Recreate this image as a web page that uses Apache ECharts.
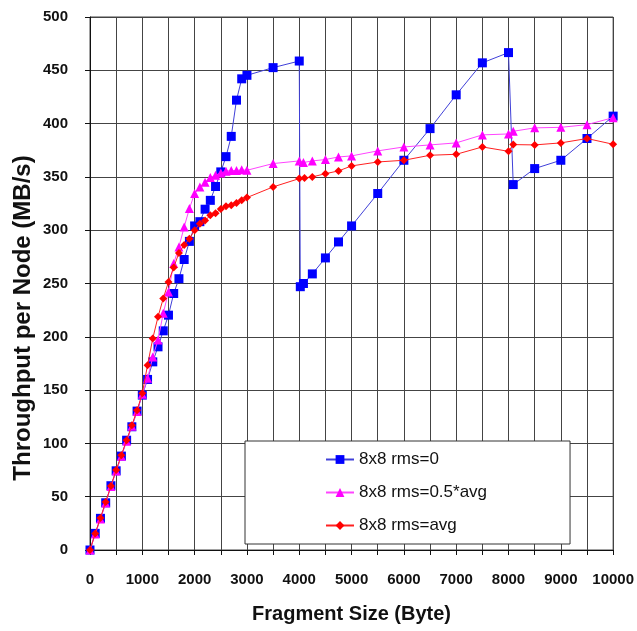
<!DOCTYPE html>
<html>
<head>
<meta charset="utf-8">
<script src="https://cdn.jsdelivr.net/npm/echarts@6/dist/echarts.min.js"></script>
<style>
html, body { margin: 0; padding: 0; background: #fff; }
#chart { width: 637px; height: 631px; }
</style>
</head>
<body>
<div id="chart"></div>
<script>
// fragment sizes (Byte) and throughput (MB/s)
var names = ['8x8 rms=0', '8x8 rms=0.5*avg', '8x8 rms=avg'];

var sizesRms0 = [0, 100, 200, 300, 400, 500, 600, 700, 800, 900, 1000, 1100, 1200, 1300, 1400, 1500, 1600, 1700, 1800, 1900,
    2000, 2100, 2200, 2300, 2400, 2500, 2600, 2700, 2800, 2900, 3000, 3500, 4000, 4020, 4080, 4250, 4500, 4750, 5000,
    5500, 6000, 6500, 7000, 7500, 8000, 8090, 8500, 9000, 9500, 10000];
var valsRms0 = [0, 15.6, 29.7, 44.3, 60.3, 74.3, 88.1, 103, 115.6, 130.3, 145.3, 160, 176.5, 190.6, 205.6, 220.3, 240.6, 254.5, 272.5, 289.5,
    304, 308, 319.7, 328, 341, 354.7, 369, 388, 422, 442, 445.3, 452.5, 458.7, 247, 250, 259, 274, 289, 304,
    334.4, 365.6, 395.3, 427, 457, 466.6, 342.8, 357.8, 365.6, 386, 407];

var sizesHalf = [0, 100, 200, 300, 400, 500, 600, 700, 800, 900, 1000, 1100, 1200, 1300, 1400, 1500, 1600, 1700, 1800, 1900,
    2000, 2100, 2200, 2300, 2400, 2500, 2600, 2700, 2800, 2900, 3000, 3500, 4000, 4080, 4250, 4500, 4750, 5000,
    5500, 6000, 6500, 7000, 7500, 8000, 8090, 8500, 9000, 9500, 10000];
var valsHalf = [0, 15, 29, 44, 59.5, 74, 88, 102, 116, 130, 146, 161, 181, 197, 222, 242, 268.8, 284.3, 303, 320.3,
    334.4, 340.6, 345, 349.4, 351.6, 353.7, 355.3, 356, 356, 356.6, 356.2, 362.5, 365, 363.5, 365, 366.3, 368.7, 369.7,
    374.4, 378.1, 380, 381.9, 389.4, 390.3, 392.8, 396, 396.5, 399, 405.6];

var sizesAvg = [0, 100, 200, 300, 400, 500, 600, 700, 800, 900, 1000, 1100, 1200, 1300, 1400, 1500, 1600, 1700, 1800, 1900,
    2000, 2100, 2200, 2300, 2400, 2500, 2600, 2700, 2800, 2900, 3000, 3500, 4000, 4100, 4250, 4500, 4750, 5000,
    5500, 6000, 6500, 7000, 7500, 8000, 8090, 8500, 9000, 9500, 10000];
var valsAvg = [0, 15.5, 30, 45, 60, 75, 89, 103, 117, 131, 147, 173.4, 198.4, 218.7, 236, 251.5, 265, 278.7, 286, 292,
    300, 306, 309, 314, 316, 320, 322.5, 323.4, 325.6, 328, 330.6, 340.6, 348.4, 349, 350, 353, 355.6, 360.3,
    364, 365.6, 370.3, 371.2, 378.1, 374, 380.3, 380, 381.9, 386, 380.6];

var xTicks = [0, 1000, 2000, 3000, 4000, 5000, 6000, 7000, 8000, 9000, 10000];

function pairs(xs, ys) {
    var out = [];
    for (var i = 0; i < xs.length; i++) {
        out.push([xs[i], ys[i]]);
    }
    return out;
}

var myChart = echarts.init(document.getElementById('chart'));
var option = {
    backgroundColor: '#fff',
    animation: false,
    textStyle: { fontFamily: 'Liberation Sans, Arial, sans-serif' },
    grid: { left: 90, right: 21, top: 17, bottom: 81, show: true, borderColor: '#444', borderWidth: 1 },
    graphic: [
        {
            // y axis title, placed a little below the middle as in the figure
            type: 'text',
            x: 23,
            y: 318,
            rotation: Math.PI / 2,
            style: {
                text: 'Throughput per Node (MB/s)',
                font: 'bold 24px "Liberation Sans", Arial, sans-serif',
                fill: '#111',
                textAlign: 'center',
                textVerticalAlign: 'middle'
            }
        }
    ],
    legend: {
        orient: 'vertical',
        left: 245,
        top: 441,
        data: names,
        backgroundColor: '#fff',
        borderColor: '#333',
        borderWidth: 1,
        padding: [10, 83, 10, 80],
        itemGap: 16,
        itemWidth: 28,
        itemHeight: 11,
        textStyle: { fontSize: 17, color: '#111', fontFamily: 'Liberation Sans, Arial, sans-serif' }
    },
    xAxis: {
        type: 'value',
        min: 0,
        max: 10000,
        interval: 500,
        name: 'Fragment Size (Byte)',
        nameLocation: 'middle',
        nameGap: 54,
        nameTextStyle: { fontSize: 20, fontWeight: 'bold', color: '#111' },
        axisLine: { lineStyle: { color: '#111' } },
        axisTick: { show: true, length: 5, lineStyle: { color: '#111' } },
        axisLabel: {
            fontSize: 15, fontWeight: 'bold', color: '#111', margin: 22,
            formatter: function (v) { return xTicks.indexOf(v) >= 0 ? String(v) : ''; }
        },
        splitLine: { show: true, lineStyle: { color: '#444', width: 1 } }
    },
    yAxis: {
        type: 'value',
        min: 0,
        max: 500,
        interval: 50,
        axisLine: { show: true, lineStyle: { color: '#111' } },
        axisTick: { show: true, length: 5, lineStyle: { color: '#111' } },
        axisLabel: { fontSize: 15, fontWeight: 'bold', color: '#111', margin: 22 },
        splitLine: { show: true, lineStyle: { color: '#444', width: 1 } }
    },
    series: [
        {
            name: names[0],
            type: 'line',
            data: pairs(sizesRms0, valsRms0),
            symbol: 'rect',
            symbolSize: 9,
            itemStyle: { color: '#0000ff' },
            lineStyle: { color: '#4040d8', width: 1 },
            z: 3
        },
        {
            name: names[1],
            type: 'line',
            data: pairs(sizesHalf, valsHalf),
            symbol: 'triangle',
            symbolSize: 9,
            itemStyle: { color: '#ff00ff' },
            lineStyle: { color: '#ff44ff', width: 1 },
            z: 4
        },
        {
            name: names[2],
            type: 'line',
            data: pairs(sizesAvg, valsAvg),
            symbol: 'diamond',
            symbolSize: 8,
            itemStyle: { color: '#ff0000' },
            lineStyle: { color: '#ff2020', width: 1 },
            z: 5
        }
    ]
};
myChart.setOption(option);
</script>
</body>
</html>
